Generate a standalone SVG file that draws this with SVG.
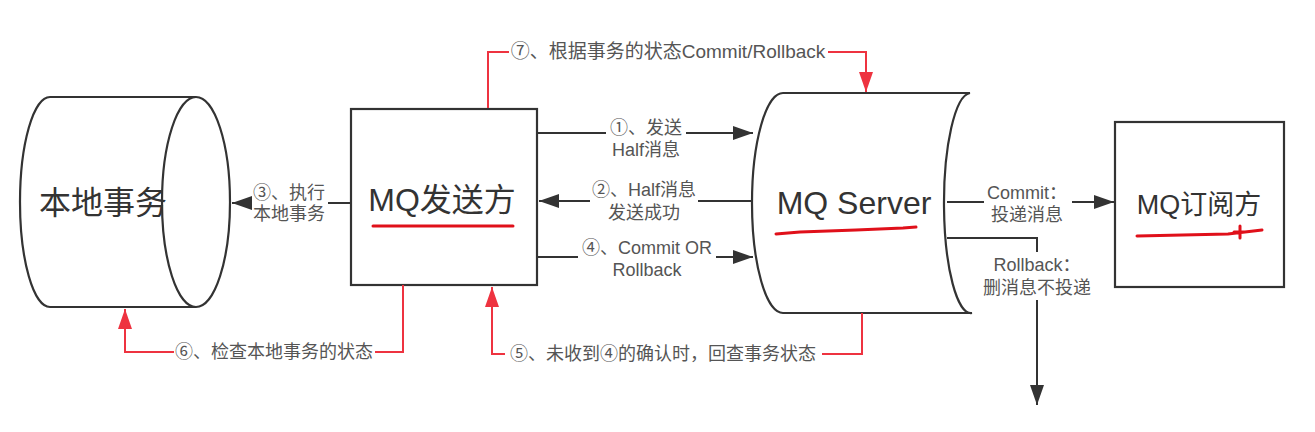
<svg xmlns="http://www.w3.org/2000/svg" width="1315" height="432" viewBox="0 0 1315 432">
<style>
.shape{fill:#fff;stroke:#333;stroke-width:2.2}
.big{font-family:"Liberation Sans","Noto Sans CJK SC",sans-serif;fill:#333;text-anchor:middle}
.lbl{font-family:"Liberation Sans","Noto Sans CJK SC",sans-serif;font-size:18px;fill:#555;text-anchor:middle}
.ln{fill:none;stroke:#333;stroke-width:2}
.rl{fill:none;stroke:#ee3340;stroke-width:2}
.ul{fill:none;stroke:#e0101a;stroke-width:3;stroke-linecap:round}
.bg{fill:#fff}
</style>
<defs>
<marker id="ab" markerUnits="userSpaceOnUse" markerWidth="20" markerHeight="14" refX="20" refY="7" orient="auto"><path d="M0,0 L20,7 L0,14 z" fill="#333"/></marker>
<marker id="ar" markerUnits="userSpaceOnUse" markerWidth="20" markerHeight="14" refX="20" refY="7" orient="auto"><path d="M0,0 L20,7 L0,14 z" fill="#ee3340"/></marker>
</defs>
<rect width="1315" height="432" fill="#fff"/>

<g id="local-tx">
<path class="shape" d="M196,97 L50,97 A30,105 0 0 0 50,307 L196,307"/>
<ellipse class="shape" cx="196" cy="202" rx="34" ry="105" fill="none"/>
<text class="big" x="103" y="214" font-size="32">本地事务</text>
</g>

<g id="mq-producer">
<rect class="shape" x="351" y="109" width="186" height="176"/>
<text class="big" x="442" y="211" font-size="32">MQ发送方</text>
<path class="ul" d="M373,226 L513,226"/>
</g>

<g id="mq-server">
<path class="shape" d="M970,93 L783,93 A31,110 0 0 0 783,313 L972,313 A27,110 0 0 1 970,93 Z"/>
<text class="big" x="854" y="214" font-size="32">MQ Server</text>
<path class="ul" d="M776,234 L800,232 L856,230 L903,228 L916,227"/>
</g>

<g id="mq-consumer">
<rect class="shape" x="1115" y="122" width="169" height="165"/>
<text class="big" x="1199" y="214" font-size="27">MQ订阅方</text>
<path class="ul" d="M1137,236 L1228,234 L1262,230 M1240,226 L1240,238 M1234,232 L1246,232" stroke-width="2.5"/>
</g>

<g id="connectors">
<path class="ln" d="M351,203 L232,203" marker-end="url(#ab)"/>
<path class="ln" d="M537,133 L753,133" marker-end="url(#ab)"/>
<path class="ln" d="M753,201 L539,201" marker-end="url(#ab)"/>
<path class="ln" d="M537,257 L753,257" marker-end="url(#ab)"/>
<path class="ln" d="M947,202 L1114,202" marker-end="url(#ab)"/>
<path class="ln" d="M947,238 L1037,238 L1037,405" marker-end="url(#ab)"/>
<path class="rl" d="M488,108 L488,52 L866,52 L866,92" marker-end="url(#ar)"/>
<path class="rl" d="M403,285 L403,352 L125,352 L125,309" marker-end="url(#ar)"/>
<path class="rl" d="M862,313 L862,354 L492,354 L492,287" marker-end="url(#ar)"/>

<rect class="bg" x="252" y="182" width="76" height="42"/>
<text class="lbl" x="289" y="199">③、执行</text>
<text class="lbl" x="289" y="220">本地事务</text>

<rect class="bg" x="606" y="118" width="80" height="44"/>
<text class="lbl" x="646" y="134">①、发送</text>
<text class="lbl" x="646" y="156">Half消息</text>

<rect class="bg" x="590" y="180" width="108" height="44"/>
<text class="lbl" x="644" y="196">②、Half消息</text>
<text class="lbl" x="644" y="219">发送成功</text>

<rect class="bg" x="578" y="238" width="138" height="44"/>
<text class="lbl" x="647" y="254">④、Commit OR</text>
<text class="lbl" x="647" y="276">Rollback</text>

<rect class="bg" x="984" y="183" width="88" height="42"/>
<text class="lbl" x="1027" y="199">Commit：</text>
<text class="lbl" x="1027" y="221">投递消息</text>

<rect class="bg" x="984" y="252" width="108" height="48"/>
<text class="lbl" x="1037" y="271">Rollback：</text>
<text class="lbl" x="1037" y="294">删消息不投递</text>

<rect class="bg" x="509" y="40" width="319" height="24"/>
<text class="lbl" x="668" y="58" style="font-size:19px">⑦、根据事务的状态Commit/Rollback</text>

<rect class="bg" x="174" y="340" width="201" height="24"/>
<text class="lbl" x="274" y="358">⑥、检查本地事务的状态</text>

<rect class="bg" x="505" y="342" width="317" height="24"/>
<text class="lbl" x="663" y="360">⑤、未收到④的确认时，回查事务状态</text>
</g>
</svg>
